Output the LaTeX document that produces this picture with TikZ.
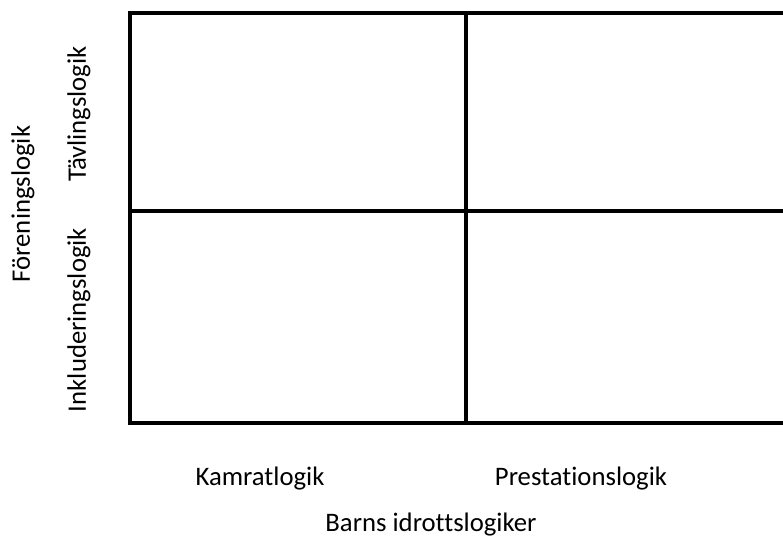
\documentclass[tikz,border=0pt]{standalone}
\usepackage{fontspec}
\setmainfont{Carlito}[Ligatures=NoCommon]
\usetikzlibrary{positioning}

\begin{document}
\begin{tikzpicture}[
      x=0.025cm, y=-0.025cm,
      grid/.style={line width=0.1cm, line cap=rect},
      every node/.style={
        font=\fontsize{19}{21}\selectfont,
        inner sep=0pt
      }
    ]
    \useasboundingbox (0,0) rectangle (783,540);

    % Corners of the grid
    \coordinate (tl) at (130,13);
    \coordinate (tr) at (785,13);
    \coordinate (ml) at (130,211);
    \coordinate (mr) at (785,211);
    \coordinate (bl) at (130,423);
    \coordinate (br) at (785,423);
    \coordinate (tm) at (466,13);
    \coordinate (bm) at (466,423);

    % Grid lines
    \draw[grid] (tr) -- (tl) -- (bl) -- (br);
    \draw[grid] (ml) -- (mr);
    \draw[grid] (tm) -- (bm);

    % Column labels
    \node (kamrat) at (260,479) {Kamratlogik};
    \node (prestation) at (581,479) {Prestationslogik};
    \node (barns) at (431,525) {Barns idrottslogiker};

    % Row labels
    \node (forening) [rotate=90] at (23,204) {Föreningslogik};
    \node (tavling) [rotate=90] at (79,114) {Tävlingslogik};
    \node (inkludering) [rotate=90] at (79,320) {Inkluderingslogik};
  \end{tikzpicture}
\end{document}
